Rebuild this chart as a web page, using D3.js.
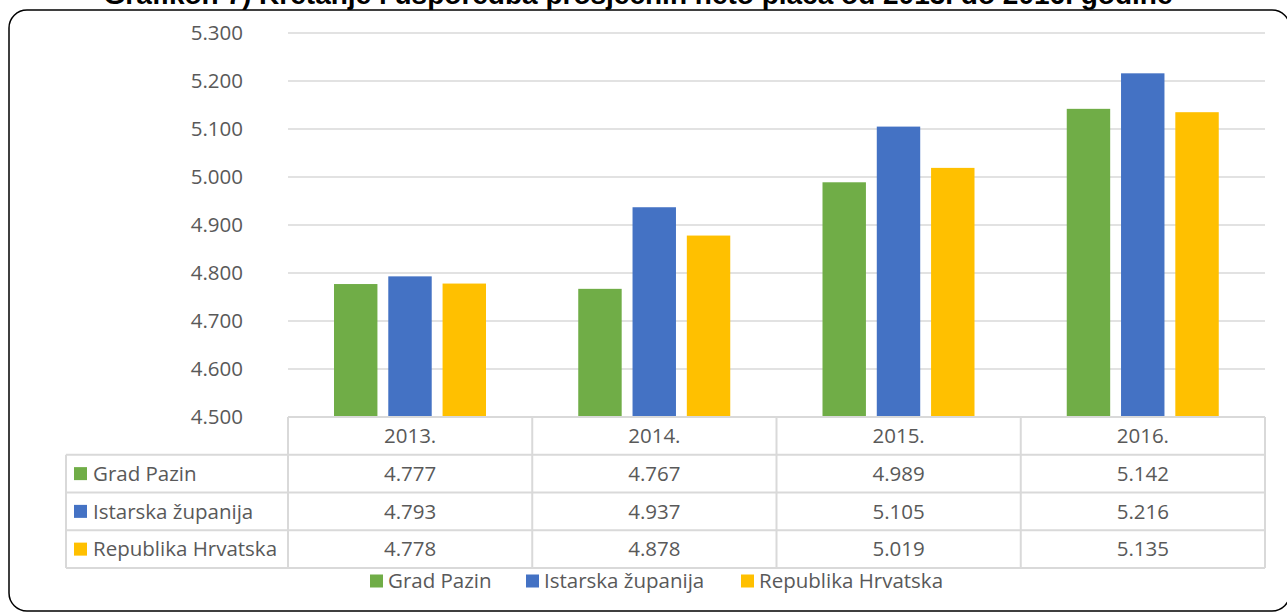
<!DOCTYPE html>
<html>
<head>
<meta charset="utf-8">
<script src="https://cdn.jsdelivr.net/npm/d3@7"></script>
<style>
  body { margin: 0; background: #fff; }
  svg text { font-family: "Open Sans", "Noto Sans", sans-serif; fill: #595959; }
  .title { font-family: "Liberation Sans", Arial, sans-serif; font-weight: bold; fill: #000; }
</style>
</head>
<body>
<div id="chart"></div>
<script>
// chart data
var years = ["2013.", "2014.", "2015.", "2016."];
var seriesNames = ["Grad Pazin", "Istarska županija", "Republika Hrvatska"];
var gradPazin = [4777, 4767, 4989, 5142];
var istarska = [4793, 4937, 5105, 5216];
var hrvatska = [4778, 4878, 5019, 5135];
var yTicks = [4500, 4600, 4700, 4800, 4900, 5000, 5100, 5200, 5300];
var colors = ["#70AD47", "#4472C4", "#FFC000"];

var seriesValues = [gradPazin, istarska, hrvatska];

var width = 1287, height = 613;
var margin = {top: 33, left: 288, right: 22, bottom: 196};
var fontSize = "20.5px";

var svg = d3.select("#chart").append("svg")
    .attr("width", width)
    .attr("height", height);

// title (cut by top edge like in the source)
svg.append("text")
    .attr("class", "title")
    .attr("x", 638)
    .attr("y", 4)
    .attr("text-anchor", "middle")
    .style("font-size", "28px")
    .text("Grafikon 7) Kretanje i usporedba prosječnih neto plaća od 2013. do 2016. godine");

// rounded frame
svg.append("rect")
    .attr("x", 9).attr("y", 10)
    .attr("width", 1281).attr("height", 601)
    .attr("rx", 18).attr("ry", 18)
    .attr("fill", "none")
    .attr("stroke", "#000")
    .attr("stroke-width", 1.5);

var x = d3.scaleBand()
    .domain(years)
    .range([margin.left, width - margin.right]);

var y = d3.scaleLinear()
    .domain([4500, 5300])
    .range([417, margin.top]);

var x1 = d3.scaleBand()
    .domain(seriesNames)
    .range([46, 198])
    .paddingInner(0.2);

// gridlines
svg.append("g").selectAll("line")
    .data(yTicks.slice(1))
    .enter().append("line")
    .attr("x1", margin.left)
    .attr("x2", width - margin.right)
    .attr("y1", function(d){ return y(d); })
    .attr("y2", function(d){ return y(d); })
    .attr("stroke", "#d9d9d9")
    .attr("stroke-width", 1.5);

// y axis labels
var yAxis = d3.axisLeft(y)
    .tickValues(yTicks)
    .tickSize(0)
    .tickPadding(0)
    .tickFormat(function(d){ return d3.format(".3f")(d / 1000); });

var yg = svg.append("g")
    .attr("transform", "translate(243,0)")
    .call(yAxis);
yg.select(".domain").remove();
yg.selectAll("text")
    .style("font-size", fontSize)
    .attr("fill", "#595959");

// bars
var groups = svg.append("g").selectAll("g")
    .data(years)
    .enter().append("g")
    .attr("transform", function(d){ return "translate(" + x(d) + ",0)"; });

groups.selectAll("rect")
    .data(function(d, i){
        return seriesNames.map(function(s, j){
            return {name: s, value: seriesValues[j][i], color: colors[j]};
        });
    })
    .enter().append("rect")
    .attr("x", function(d){ return x1(d.name); })
    .attr("width", x1.bandwidth())
    .attr("y", function(d){ return y(d.value); })
    .attr("height", function(d){ return y(4500) - y(d.value); })
    .attr("fill", function(d){ return d.color; });

// data table
var tableLeft = 66;
var rowTop = 417, rowH = 37.75;
var tableRight = width - margin.right;
var gridColor = "#d9d9d9";
var table = svg.append("g");

// horizontal lines
var hLines = [0, 1, 2, 3, 4];
table.selectAll("line.h")
    .data(hLines)
    .enter().append("line")
    .attr("class", "h")
    .attr("x1", function(d){ return d === 0 ? margin.left : tableLeft; })
    .attr("x2", tableRight)
    .attr("y1", function(d){ return rowTop + d * rowH; })
    .attr("y2", function(d){ return rowTop + d * rowH; })
    .attr("stroke", gridColor)
    .attr("stroke-width", 2);

// vertical lines
table.append("line")
    .attr("x1", tableLeft).attr("x2", tableLeft)
    .attr("y1", rowTop + rowH).attr("y2", rowTop + 4 * rowH)
    .attr("stroke", gridColor).attr("stroke-width", 2);

var vx = years.map(function(d){ return x(d); }).concat([tableRight]);
table.selectAll("line.v")
    .data(vx)
    .enter().append("line")
    .attr("class", "v")
    .attr("x1", function(d){ return d; })
    .attr("x2", function(d){ return d; })
    .attr("y1", rowTop)
    .attr("y2", rowTop + 4 * rowH)
    .attr("stroke", gridColor)
    .attr("stroke-width", 2);

// header
table.selectAll("text.year")
    .data(years)
    .enter().append("text")
    .attr("class", "year")
    .attr("x", function(d){ return x(d) + x.bandwidth() / 2; })
    .attr("y", rowTop + rowH / 2)
    .attr("dy", "0.35em")
    .attr("text-anchor", "middle")
    .style("font-size", fontSize)
    .text(function(d){ return d; });

// series rows
seriesNames.forEach(function(name, j){
    var cy = rowTop + (j + 1.5) * rowH;
    table.append("rect")
        .attr("x", 74).attr("y", cy - 6.5)
        .attr("width", 13).attr("height", 13)
        .attr("fill", colors[j]);
    table.append("text")
        .attr("x", 93).attr("y", cy)
        .attr("dy", "0.35em")
        .style("font-size", fontSize)
        .text(name);
    table.selectAll("text.val" + j)
        .data(seriesValues[j])
        .enter().append("text")
        .attr("class", "val" + j)
        .attr("x", function(d, i){ return x(years[i]) + x.bandwidth() / 2; })
        .attr("y", cy)
        .attr("dy", "0.35em")
        .attr("text-anchor", "middle")
        .style("font-size", fontSize)
        .text(function(d){ return d3.format(".3f")(d / 1000); });
});

// bottom legend
var legendX = [370, 526, 741];
var legend = svg.append("g").selectAll("g")
    .data(seriesNames)
    .enter().append("g")
    .attr("transform", function(d, i){ return "translate(" + legendX[i] + ",581)"; });
legend.append("rect")
    .attr("x", 0).attr("y", -6.5)
    .attr("width", 13).attr("height", 13)
    .attr("fill", function(d, i){ return colors[i]; });
legend.append("text")
    .attr("x", 18).attr("y", 0)
    .attr("dy", "0.35em")
    .style("font-size", fontSize)
    .text(function(d){ return d; });
</script>
</body>
</html>
